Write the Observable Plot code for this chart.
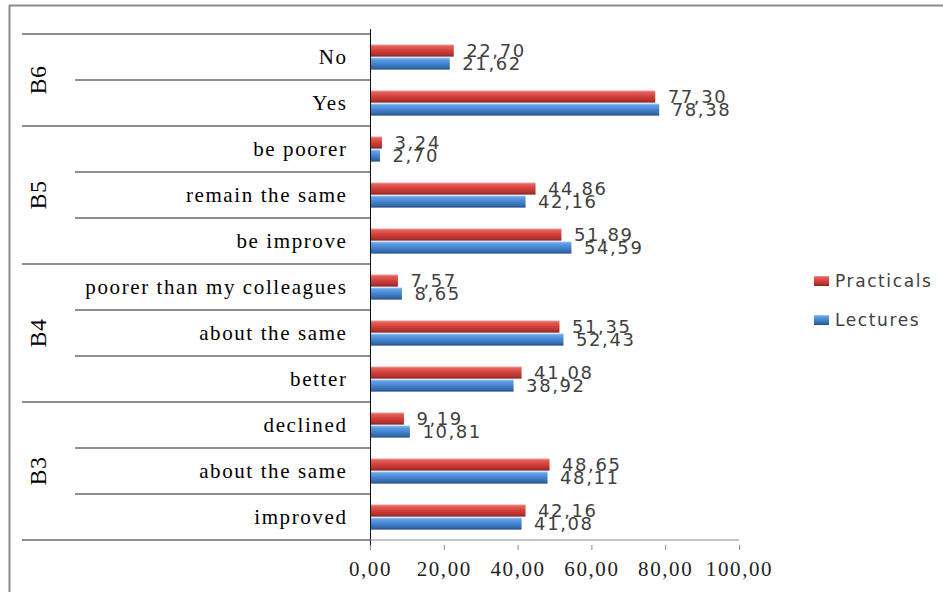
<!DOCTYPE html>
<html>
<head>
<meta charset="utf-8">
<script src="https://cdn.jsdelivr.net/npm/d3@7"></script>
<script src="https://cdn.jsdelivr.net/npm/@observablehq/plot@0.6"></script>
<style>
  html, body { margin: 0; padding: 0; background: #fff; }
  #chart { width: 943px; height: 592px; overflow: hidden; }
</style>
</head>
<body>
<div id="chart"></div>
<script>
// ---- data (top to bottom) ----
const groups = ["B6", "B6", "B5", "B5", "B5", "B4", "B4", "B4", "B3", "B3", "B3"];
const categories = ["No", "Yes", "be poorer", "remain the same", "be improve",
  "poorer than my colleagues", "about the same", "better",
  "declined", "about the same", "improved"];
const practicals = [22.70, 77.30, 3.24, 44.86, 51.89, 7.57, 51.35, 41.08, 9.19, 48.65, 42.16];
const lectures   = [21.62, 78.38, 2.70, 42.16, 54.59, 8.65, 52.43, 38.92, 10.81, 48.11, 41.08];
const seriesNames = ["Practicals", "Lectures"];
const xTicks = [0, 20, 40, 60, 80, 100];

const rows = categories.map((c, i) => ({key: groups[i] + "|" + c, group: groups[i], cat: c}));
const pData = rows.map((r, i) => ({...r, series: seriesNames[0], value: practicals[i]}));
const lData = rows.map((r, i) => ({...r, series: seriesNames[1], value: lectures[i]}));
const fmt = d => d3.format(".2f")(d).replace(".", ",");

const serif = "Liberation Serif, Times New Roman, serif";
const sans = "DejaVu Sans, Verdana, sans-serif";

const chart = Plot.plot({
  width: 943,
  height: 592,
  marginLeft: 370,
  marginRight: 204,
  marginTop: 29,
  marginBottom: 47,
  style: {background: "transparent", color: "#111"},
  x: {domain: [0, 100], axis: null},
  y: {type: "band", domain: rows.map(r => r.key), padding: 0, axis: null},
  marks: [
    Plot.barX(pData, {x: "value", y: "key", fill: "url(#gradP)", insetTop: 10.5, insetBottom: 23.4,
      style: "filter:url(#shadow)"}),
    Plot.barX(lData, {x: "value", y: "key", fill: "url(#gradL)", insetTop: 23.5, insetBottom: 10.4,
      style: "filter:url(#shadow)"}),
    Plot.text(pData, {x: "value", y: "key", text: d => fmt(d.value), dx: 12, dy: -6.5, textAnchor: "start",
      fill: "#404040", fontSize: 18, fontFamily: sans}),
    Plot.text(lData, {x: "value", y: "key", text: d => fmt(d.value), dx: 12, dy: 6.5, textAnchor: "start",
      fill: "#404040", fontSize: 18, fontFamily: sans}),
    Plot.text(rows, {y: "key", text: "cat", frameAnchor: "left", dx: -23, textAnchor: "end",
      fill: "#000", fontSize: 21, fontFamily: serif}),
    Plot.ruleX([0], {stroke: "#111"}),
    Plot.axisX({ticks: xTicks, tickFormat: fmt, tickSize: 5, tickPadding: 11, stroke: "#888", fill: "#222",
      fontSize: 21, fontFamily: serif, label: null})
  ]
});

document.getElementById("chart").appendChild(chart);

const svg = d3.select(chart);
// letter spacing to match the wide reference typography
svg.selectAll("text").style("letter-spacing", "1.6px");

// gradients for the bevelled bars, and a soft drop shadow
const defs = svg.insert("defs", ":first-child");
function grad(id, stops) {
  const g = defs.append("linearGradient").attr("id", id).attr("x1", 0).attr("y1", 0).attr("x2", 0).attr("y2", 1);
  stops.forEach(([o, c]) => g.append("stop").attr("offset", o).attr("stop-color", c));
}
grad("gradP", [[0, "#f4a09c"], [0.15, "#e5605a"], [0.5, "#d0403b"], [0.85, "#b0302c"], [1, "#7a1f1c"]]);
grad("gradL", [[0, "#a3cdf7"], [0.15, "#63a2e6"], [0.5, "#4684d0"], [0.85, "#3367a8"], [1, "#23487a"]]);
const f = defs.append("filter").attr("id", "shadow").attr("x", "-5%").attr("y", "-30%").attr("width", "115%").attr("height", "180%");
f.append("feDropShadow").attr("dx", 2).attr("dy", 2).attr("stdDeviation", 1.3)
  .attr("flood-color", "#000").attr("flood-opacity", 0.3);

const xs = chart.scale("x"), ys = chart.scale("y");
const x0 = xs.apply(0), x100 = xs.apply(100);
const step = ys.step !== undefined ? ys.step : ys.bandwidth;

// separator lines of the two-level category axis
const lines = svg.append("g");
rows.forEach((r, i) => {
  const top = ys.apply(r.key);
  const newGroup = i === 0 || groups[i - 1] !== r.group;
  lines.append("line").attr("x1", newGroup ? 22 : 75).attr("x2", x0).attr("y1", top).attr("y2", top)
    .attr("stroke", "#222").attr("stroke-width", 1.2);
});
const lastTop = ys.apply(rows[rows.length - 1].key) + step;
lines.append("line").attr("x1", 22).attr("x2", x0).attr("y1", lastTop).attr("y2", lastTop)
  .attr("stroke", "#222").attr("stroke-width", 1.2);
// x axis base line
lines.append("line").attr("x1", x0).attr("x2", x100).attr("y1", lastTop).attr("y2", lastTop)
  .attr("stroke", "#888").attr("stroke-width", 1);

// group labels (rotated)
const uniqGroups = [...new Set(groups)];
uniqGroups.forEach(g => {
  const ks = rows.filter(r => r.group === g).map(r => ys.apply(r.key) + step / 2);
  const cy = d3.mean(ks);
  svg.append("text").attr("transform", `translate(38,${cy}) rotate(-90)`)
    .attr("text-anchor", "middle").attr("dominant-baseline", "central")
    .attr("font-family", serif).attr("font-size", 24).attr("fill", "#000")
    .style("letter-spacing", "0.5px").text(g);
});

// legend
const legend = svg.append("g").attr("text-anchor", "start");
[["Practicals", "url(#gradP)", 281], ["Lectures", "url(#gradL)", 320]].forEach(([name, fill, cy]) => {
  legend.append("rect").attr("x", 814).attr("y", cy - 5).attr("width", 15).attr("height", 10).attr("fill", fill);
  legend.append("text").attr("x", 835).attr("y", cy).attr("dominant-baseline", "central")
    .attr("text-anchor", "start")
    .attr("font-family", sans).attr("font-size", 17).attr("fill", "#404040")
    .style("letter-spacing", "1.6px").text(name);
});

// outer border (top and left edges visible)
svg.append("line").attr("x1", 9).attr("x2", 943).attr("y1", 5.5).attr("y2", 5.5).attr("stroke", "#8a8a8a").attr("stroke-width", 2);
svg.append("line").attr("x1", 9.5).attr("x2", 9.5).attr("y1", 5).attr("y2", 592).attr("stroke", "#8a8a8a").attr("stroke-width", 2);
</script>
</body>
</html>
